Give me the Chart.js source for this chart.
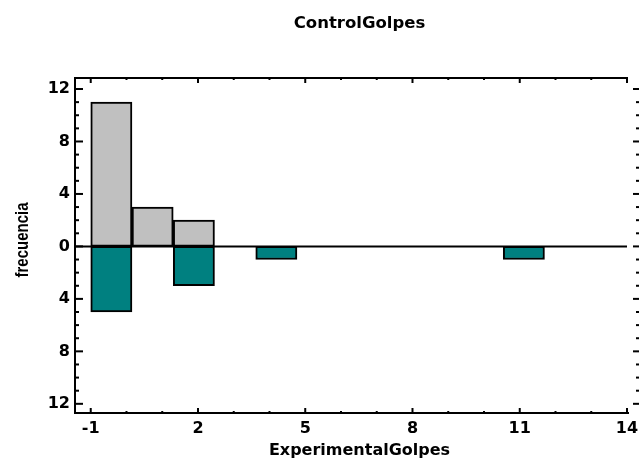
<!DOCTYPE html>
<html>
<head>
<meta charset="utf-8">
<script src="https://cdn.jsdelivr.net/npm/chart.js@4"></script>
<style>
  html, body { margin: 0; padding: 0; background: #ffffff; }
  canvas { display: block; }
</style>
</head>
<body>
<canvas id="chart" width="639" height="466"></canvas>
<script>
// Histogram classes: 13 bins of width 15/13 between -1 and 14 (centres)
const binCenters = [-0.423, 0.731, 1.885, 3.038, 4.192, 5.346, 6.5, 7.654, 8.808, 9.962, 11.115, 12.269, 13.423];
// Frequencies per bin
const controlCounts      = [11, 3, 2, 0, 0, 0, 0, 0, 0, 0, 0, 0, 0];
const experimentalCounts = [5, 0, 3, 0, 1, 0, 0, 0, 0, 0, 1, 0, 0];
// Labelled tick positions
const xTickValues = [-1, 2, 5, 8, 11, 14];
const yTickValues = [-12, -8, -4, 0, 4, 8, 12];
// Texts
const chartTitle = 'ControlGolpes';
const xTitle = 'ExperimentalGolpes';
const yTitle = 'frecuencia';

const GRAY = '#c0c0c0';
const TEAL = '#008080';
const tickFont = { family: 'DejaVu Sans', weight: 'bold', size: 16 };

// Frame, inward tick marks, zero line and titles
const decorations = {
  id: 'decorations',
  afterDatasetsDraw(chart) {
    const { ctx, chartArea: a, scales: { x, y } } = chart;
    const W = chart.width;
    ctx.save();
    ctx.strokeStyle = '#000';
    ctx.lineWidth = 2;
    const seg = (x1, y1, x2, y2) => { ctx.beginPath(); ctx.moveTo(x1, y1); ctx.lineTo(x2, y2); ctx.stroke(); };

    // baseline between the two histograms
    const y0 = y.getPixelForValue(0);
    seg(a.left, y0, a.right, y0);

    // frame
    seg(a.left, a.top - 1, a.left, a.bottom + 1);
    seg(a.left - 1, a.top, a.right + 1, a.top);
    seg(a.left - 1, a.bottom, a.right + 2, a.bottom);

    // vertical axis ticks (left and right side)
    for (let v = Math.ceil(y.min); v <= Math.floor(y.max); v++) {
      const py = y.getPixelForValue(v);
      const major = v % 4 === 0;
      seg(a.left, py, a.left + (major ? 8 : 4), py);
      seg(W, py, W - (major ? 6 : 3), py);
    }
    // horizontal axis ticks (bottom and top)
    for (let v = Math.ceil(x.min); v <= Math.floor(x.max); v++) {
      const px = x.getPixelForValue(v);
      const major = (v + 1) % 3 === 0;
      seg(px, a.bottom, px, a.bottom - (major ? 5 : 2));
      seg(px, a.top, px, a.top + (major ? 5 : 2));
    }
    ctx.restore();
  },
  afterDraw(chart) {
    const { ctx } = chart;
    ctx.save();
    ctx.fillStyle = '#000';
    ctx.textAlign = 'center';
    ctx.textBaseline = 'alphabetic';

    ctx.font = 'bold 16.5px "DejaVu Sans"';
    ctx.fillText(chartTitle, 359.5, 27.5);

    ctx.font = 'bold 16px "DejaVu Sans"';
    ctx.fillText(xTitle, 359.5, 455);

    ctx.translate(28, 240);
    ctx.rotate(-Math.PI / 2);
    ctx.scale(1, 1.2);
    ctx.font = 'bold 15px "Liberation Sans"';
    ctx.fillText(yTitle, 0, 0);
    ctx.restore();
  }
};

new Chart(document.getElementById('chart'), {
  type: 'bar',
  data: {
    datasets: [
      {
        label: 'ControlGolpes',
        data: binCenters.map((c, i) => ({ x: c, y: controlCounts[i] })),
        backgroundColor: GRAY,
        borderColor: '#000',
        borderWidth: 2,
        borderSkipped: false,
        stack: 'freq',
        barPercentage: 1,
        categoryPercentage: 1
      },
      {
        label: 'ExperimentalGolpes',
        data: binCenters.map((c, i) => ({ x: c, y: -experimentalCounts[i] })),
        backgroundColor: TEAL,
        borderColor: '#000',
        borderWidth: 2,
        borderSkipped: false,
        stack: 'freq',
        barPercentage: 1,
        categoryPercentage: 1
      }
    ]
  },
  options: {
    responsive: false,
    animation: false,
    devicePixelRatio: 1,
    layout: { padding: { top: 78, right: 12, left: 0, bottom: 0 } },
    plugins: {
      legend: { display: false },
      title: { display: false },
      tooltip: { enabled: false }
    },
    scales: {
      x: {
        type: 'linear',
        stacked: true,
        offset: false,
        min: -1.44,
        max: 14,
        grid: { display: false, drawTicks: false, offset: false },
        border: { display: false },
        afterBuildTicks(scale) { scale.ticks = xTickValues.map(v => ({ value: v })); },
        afterFit(scale) {
          scale.height = 53;
          scale.paddingLeft = 0;
          scale.paddingRight = 0;
        },
        ticks: {
          font: tickFont,
          color: '#000',
          padding: 6,
          autoSkip: false,
          maxRotation: 0,
          callback: v => String(v)
        }
      },
      y: {
        stacked: true,
        min: -12.7,
        max: 12.84,
        grid: { display: false, drawTicks: false },
        border: { display: false },
        afterBuildTicks(scale) { scale.ticks = yTickValues.map(v => ({ value: v })); },
        afterFit(scale) {
          scale.width = 75;
          scale.paddingTop = 0;
          scale.paddingBottom = 0;
        },
        ticks: {
          font: tickFont,
          color: '#000',
          padding: 5,
          autoSkip: false,
          callback: v => String(Math.abs(v))
        }
      }
    }
  },
  plugins: [decorations]
});
</script>
</body>
</html>
